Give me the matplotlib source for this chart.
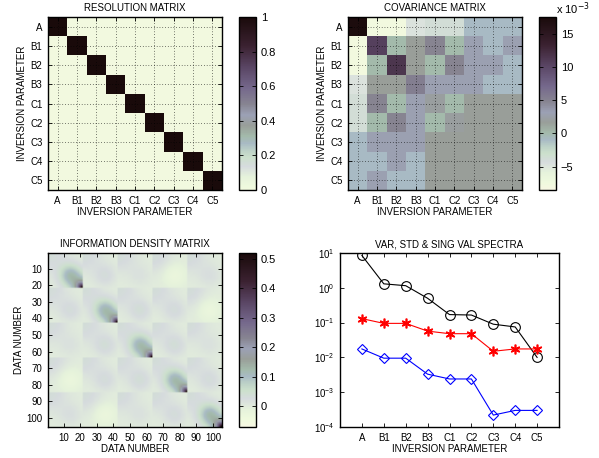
import matplotlib
matplotlib.use('Agg')
import matplotlib.pyplot as plt
import numpy as np
from matplotlib.colors import LinearSegmentedColormap

plt.rcParams['font.family'] = ['Liberation Sans', 'DejaVu Sans']
plt.rcParams['font.size'] = 7

params = ['A', 'B1', 'B2', 'B3', 'C1', 'C2', 'C3', 'C4', 'C5']

# resolution matrix (identity)
res_diag = [1, 1, 1, 1, 1, 1, 1, 1, 1]

# covariance matrix, units of 1e-3
cov = [
    [17.0, -7.7, -7.7, -4.8, -3.8, -3.8, -0.95, -0.95, -0.95],
    [-7.7, 10.5, 0.1, 1.6, 4.8, 0.1, 3.0, -0.9, 3.0],
    [-7.7, 0.1, 11.5, 1.6, 0.1, 4.8, 3.0, 3.0, -0.9],
    [-4.8, 1.6, 1.6, 5.3, 3.0, 3.0, 3.0, -0.9, -0.9],
    [-3.8, 4.8, 0.1, 3.0, 2.0, 0.1, 1.6, 1.6, 1.6],
    [-3.8, 0.1, 4.8, 3.0, 0.1, 2.0, 1.6, 1.6, 1.6],
    [-0.95, 3.0, 3.0, 3.0, 1.6, 1.6, 1.6, 1.6, 1.6],
    [-0.95, -0.9, 3.0, -0.9, 1.6, 1.6, 1.6, 1.6, 1.6],
    [-0.95, 3.0, -0.9, -0.9, 1.6, 1.6, 1.6, 1.6, 1.6],
]

# information density: 5x5 blocks of 21 data each
block_size = 21
diag_peak = [0.52, 0.50, 0.50, 0.50, 0.52]
spot_amp = [
    [0.11, 0.03, 0.015, -0.03, 0.02],
    [0.03, 0.11, 0.035, 0.03, -0.03],
    [0.015, 0.035, 0.11, 0.035, 0.015],
    [-0.03, 0.03, 0.035, 0.11, 0.03],
    [0.02, -0.03, 0.015, 0.03, 0.11],
]
corner_amp = 0.035

# spectra
sing_val = [8.5, 1.3, 1.15, 0.5, 0.17, 0.165, 0.09, 0.075, 0.01]
std_val = [0.13, 0.095, 0.095, 0.057, 0.048, 0.048, 0.015, 0.0175, 0.0175]
var_val = [0.0175, 0.0095, 0.0095, 0.0033, 0.0024, 0.0024, 0.00022, 0.0003, 0.0003]

cmap = LinearSegmentedColormap.from_list('inv', [
    (0.00, (0.97, 0.97, 0.89)),
    (0.04, (0.94, 0.98, 0.87)),
    (0.10, (0.90, 0.95, 0.86)),
    (0.16, (0.84, 0.86, 0.87)),
    (0.21, (0.80, 0.88, 0.80)),
    (0.25, (0.74, 0.82, 0.78)),
    (0.29, (0.66, 0.73, 0.77)),
    (0.33, (0.64, 0.73, 0.67)),
    (0.39, (0.60, 0.62, 0.60)),
    (0.45, (0.61, 0.63, 0.71)),
    (0.51, (0.53, 0.52, 0.57)),
    (0.60, (0.46, 0.41, 0.55)),
    (0.72, (0.35, 0.27, 0.39)),
    (0.84, (0.23, 0.13, 0.19)),
    (1.00, (0.10, 0.04, 0.04)),
])

W, H = 599, 458
fig = plt.figure(figsize=(W / 100, H / 100), dpi=100)


def box(x0, y0, x1, y1):
    return [x0 / W, 1 - y1 / H, (x1 - x0) / W, (y1 - y0) / H]


def style(ax):
    ax.tick_params(direction='in', top=True, right=True, length=3, width=0.6, pad=4)
    for s in ax.spines.values():
        s.set_linewidth(1.0)


def style_cb(cb):
    cb.ax.tick_params(direction='in', length=3, width=0.6, labelsize=8, left=True, right=True)
    cb.outline.set_linewidth(1.0)


def dotgrid(ax):
    ax.grid(True, color='k', linewidth=0.5, dashes=(1, 3))


n = len(params)
idx = np.arange(1, n + 1)

# --- resolution matrix
ax1 = fig.add_axes(box(48, 17, 222, 190))
R = np.diag(res_diag).astype(float)
im1 = ax1.imshow(R, cmap=cmap, vmin=-0.03, vmax=1, aspect='auto', interpolation='nearest',
                 extent=[0.5, n + 0.5, n + 0.5, 0.5])
ax1.set_xticks(idx, params)
ax1.set_yticks(idx, params)
dotgrid(ax1)
ax1.set_title('RESOLUTION MATRIX', fontsize=7, pad=4)
ax1.set_xlabel('INVERSION PARAMETER', labelpad=1)
ax1.set_ylabel('INVERSION PARAMETER', labelpad=2)
style(ax1)
cax1 = fig.add_axes(box(239, 17, 256, 190))
cb1 = fig.colorbar(im1, cax=cax1, ticks=[0, 0.2, 0.4, 0.6, 0.8, 1])
cb1.ax.set_yticklabels(['0', '0.2', '0.4', '0.6', '0.8', '1'])
cb1.ax.set_ylim(0, 1)
style_cb(cb1)

# --- covariance matrix
ax2 = fig.add_axes(box(348, 17, 522, 190))
im2 = ax2.imshow(np.array(cov), cmap=cmap, vmin=-8.5, vmax=17.5, aspect='auto',
                 interpolation='nearest', extent=[0.5, n + 0.5, n + 0.5, 0.5])
ax2.set_xticks(idx, params)
ax2.set_yticks(idx, params)
dotgrid(ax2)
ax2.set_title('COVARIANCE MATRIX', fontsize=7, pad=4)
ax2.set_xlabel('INVERSION PARAMETER', labelpad=1)
ax2.set_ylabel('INVERSION PARAMETER', labelpad=2)
style(ax2)
cax2 = fig.add_axes(box(539, 17, 556, 190))
cb2 = fig.colorbar(im2, cax=cax2, ticks=[-5, 0, 5, 10, 15])
cb2.ax.set_yticklabels(['\u22125', '0', '5', '10', '15'])
style_cb(cb2)
fig.text(556 / W, 1 - 9 / H, r'x 10$^{-3}$', fontsize=8, va='center', ha='left')

# --- information density matrix
nb = len(diag_peak)
N = nb * block_size
rr, cc = np.meshgrid(np.arange(block_size), np.arange(block_size), indexing='ij')
D = np.zeros((N, N))
for I in range(nb):
    for J in range(nb):
        blk = corner_amp * np.exp(-(rr ** 2 + cc ** 2) / 110.0)
        blk += spot_amp[I][J] * np.exp(-((rr - 13.0) ** 2 + (cc - 13.0) ** 2) / 45.0)
        if I == J:
            d = np.sqrt((block_size - 1 - rr) ** 2 + (block_size - 1 - cc) ** 2)
            blk += diag_peak[I] * np.exp(-d / 2.8)
        D[I * block_size:(I + 1) * block_size, J * block_size:(J + 1) * block_size] = blk
ax3 = fig.add_axes(box(48, 253, 222, 427))
im3 = ax3.imshow(D, cmap=cmap, vmin=-0.07, vmax=0.52, aspect='auto', interpolation='bilinear',
                 extent=[0.5, N + 0.5, N + 0.5, 0.5])
ticks = np.arange(10, 101, 10)
ax3.set_xticks(ticks)
ax3.set_yticks(ticks)
ax3.set_title('INFORMATION DENSITY MATRIX', fontsize=7, pad=4)
ax3.set_xlabel('DATA NUMBER', labelpad=1)
ax3.set_ylabel('DATA NUMBER', labelpad=2)
style(ax3)
cax3 = fig.add_axes(box(239, 253, 256, 427))
cb3 = fig.colorbar(im3, cax=cax3, ticks=[0, 0.1, 0.2, 0.3, 0.4, 0.5])
cb3.ax.set_yticklabels(['0', '0.1', '0.2', '0.3', '0.4', '0.5'])
style_cb(cb3)

# --- spectra
ax4 = fig.add_axes(box(340, 253, 559, 427))
ax4.semilogy(idx, sing_val, 'k-', marker='o', mfc='none', ms=7, lw=0.8, mew=0.8)
ax4.semilogy(idx, std_val, 'r-', marker=(6, 2, 0), ms=7, lw=0.8, mew=1.2)
ax4.semilogy(idx, var_val, 'b-', marker='D', mfc='none', ms=5.5, lw=0.8, mew=0.8)
ax4.set_xlim(0, n + 1)
ax4.set_ylim(1e-4, 1e1)
ax4.set_xticks(idx, params)
ax4.set_yticks([1e-4, 1e-3, 1e-2, 1e-1, 1e0, 1e1])
ax4.minorticks_off()
ax4.set_title('VAR, STD & SING VAL SPECTRA', fontsize=7, pad=4)
ax4.set_xlabel('INVERSION PARAMETER', labelpad=1)
style(ax4)

fig.savefig('out.png', dpi=100)
